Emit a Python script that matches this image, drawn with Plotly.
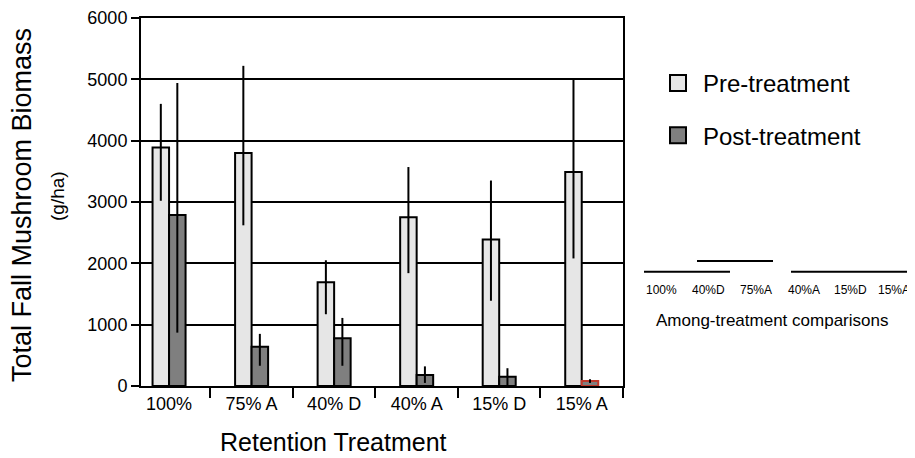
import plotly.graph_objects as go

categories = ["100%", "75% A", "40% D", "40% A", "15% D", "15% A"]

pre_values = [3890, 3800, 1690, 2750, 2390, 3490]
pre_err_plus = [710, 1420, 360, 820, 960, 1500]
pre_err_minus = [870, 1180, 520, 910, 1000, 1410]

post_values = [2790, 640, 780, 180, 150, 80]
post_err_plus = [2150, 210, 330, 140, 140, 30]
post_err_minus = [1920, 310, 450, 130, 150, 30]

y_ticks = [0, 1000, 2000, 3000, 4000, 5000, 6000]

comparison_labels = ["100%", "40%D", "75%A", "40%A", "15%D", "15%A"]

FONT = "Liberation Sans, Arial, Helvetica, sans-serif"
PRE_COLOR = "#e6e6e6"
POST_COLOR = "#7f7f7f"

post_line_colors = ["black"] * 5 + ["#c0392b"]

fig = go.Figure()
fig.add_trace(go.Bar(
    name="Pre-treatment", x=categories, y=pre_values, showlegend=False,
    marker=dict(color=PRE_COLOR, line=dict(color="black", width=2)),
    error_y=dict(type="data", symmetric=False, array=pre_err_plus,
                 arrayminus=pre_err_minus, color="black", thickness=2, width=0),
))
fig.add_trace(go.Bar(
    name="Post-treatment", x=categories, y=post_values, showlegend=False,
    marker=dict(color=POST_COLOR, line=dict(color=post_line_colors, width=2)),
    error_y=dict(type="data", symmetric=False, array=post_err_plus,
                 arrayminus=post_err_minus, color="black", thickness=2, width=0),
))
# legend entries with larger square swatches
for name, col, grp in [("Pre-treatment", PRE_COLOR, "pre"), ("Post-treatment", POST_COLOR, "post")]:
    fig.add_trace(go.Scatter(
        name=name, x=[None], y=[None], mode="markers", legendgroup=grp,
        marker=dict(symbol="square", size=16, color=col, line=dict(color="black", width=2)),
        hoverinfo="skip",
    ))

# page has an 8px body margin; compensate so the figure fits the window
OFF = 8
W, H = 915 - OFF, 458 - OFF
L, R, T, B = 141 - OFF, 623 - OFF, 18 - OFF, 386 - OFF


def px(xp):
    return (xp - OFF - L) / (R - L)


def py(yp):
    return (B - (yp - OFF)) / (B - T)


fig.update_layout(
    width=W, height=H,
    margin=dict(l=L, r=W - R, t=T, b=H - B, pad=0, autoexpand=False),
    paper_bgcolor="white", plot_bgcolor="white",
    font=dict(family=FONT, color="black"),
    barmode="group", bargap=0.6, bargroupgap=0,
    legend=dict(x=px(653), y=py(61), xanchor="left", yanchor="top",
                font=dict(size=24, family=FONT), tracegroupgap=18,
                traceorder="grouped", bgcolor="rgba(0,0,0,0)", itemwidth=40),
    xaxis=dict(type="category", range=[-0.34, 5.5], showline=True, linecolor="black",
               linewidth=2, mirror=True, ticks="outside", tickson="boundaries",
               ticklen=10, tickwidth=2, tickcolor="black", showgrid=False,
               automargin=False, tickfont=dict(size=18, family=FONT)),
    yaxis=dict(range=[0, 6000], tickvals=y_ticks, showline=True, linecolor="black",
               linewidth=2, mirror=True, ticks="outside", ticklen=8, tickwidth=2,
               tickcolor="black", showgrid=True, gridcolor="black", gridwidth=2,
               zeroline=False, automargin=False, tickfont=dict(size=18, family=FONT)),
    showlegend=True,
)

annotations = [
    dict(text="Total Fall Mushroom Biomass", x=px(22), y=py(205), textangle=-90,
         font=dict(size=27, family=FONT)),
    dict(text="(g/ha)", x=px(57), y=py(196), textangle=-90,
         font=dict(size=19, family=FONT)),
    dict(text="Retention Treatment", x=px(333), y=py(442),
         font=dict(size=25, family=FONT)),
    dict(text="Among-treatment comparisons", x=px(772), y=py(320),
         font=dict(size=17, family=FONT)),
]
label_x = [644, 690, 738, 786, 832, 876]
for lbl, lx in zip(comparison_labels, label_x):
    annotations.append(dict(text=lbl, x=px(lx), y=py(290), xanchor="left",
                            font=dict(size=12, family=FONT)))
for a in annotations:
    a.update(xref="paper", yref="paper", showarrow=False)
    a.setdefault("xanchor", "center")
    a["yanchor"] = "middle"
fig.update_layout(annotations=annotations)

segments = [(644, 730, 271.7), (697, 773, 261), (791, 915, 271.7)]
for x0, x1, yy in segments:
    fig.add_shape(type="line", xref="paper", yref="paper",
                  x0=px(x0), x1=px(x1), y0=py(yy), y1=py(yy),
                  line=dict(color="black", width=2))

fig.write_html("out.html")
